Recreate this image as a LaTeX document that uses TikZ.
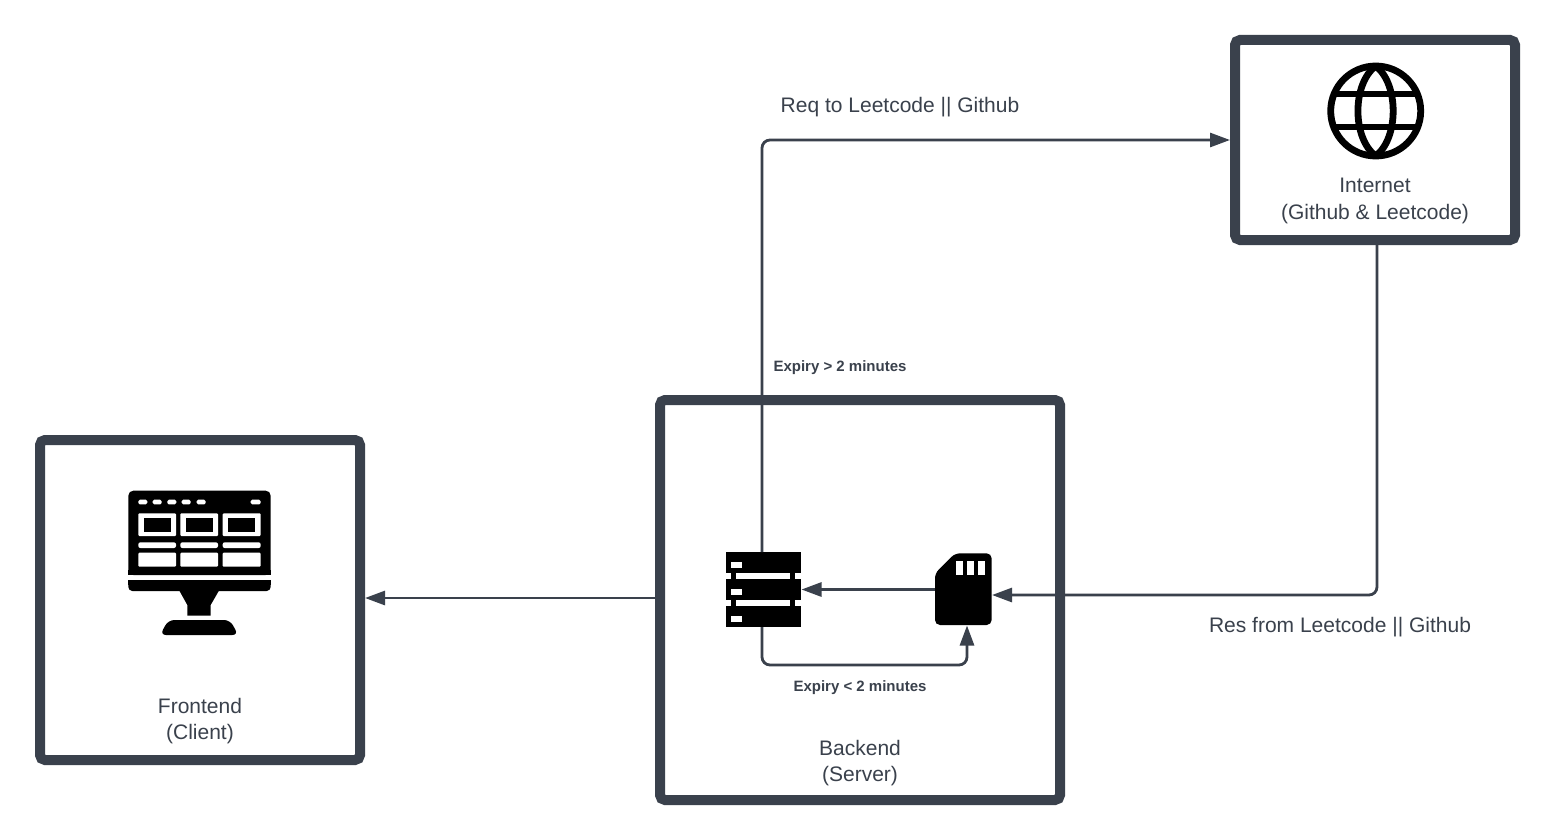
\documentclass[tikz,border=0pt]{standalone}
\usepackage{fontspec}
\setmainfont{Liberation Sans}
\usetikzlibrary{arrows.meta}
\definecolor{ink}{HTML}{3A414C}
\tikzset{
  x=1pt,y=-1pt,
  panel/.style={draw=ink,line width=10pt,rounded corners=5pt,fill=white,inner sep=0pt},
  iconbox/.style={inner sep=0pt,outer sep=0pt},
  link/.style={draw=ink,line width=2.8pt,rounded corners=8pt,-{Triangle[length=20pt,width=14pt]}},
  bodytext/.style={text=ink,align=center,font=\fontsize{21}{26.5}\selectfont,inner sep=0pt},
  smalltext/.style={text=ink,font=\bfseries\fontsize{15}{18}\selectfont,inner sep=0pt},
  zoomed/.style={x=0.33333pt,y=-0.33333pt}
}
\begin{document}
\begin{tikzpicture}
\useasboundingbox[fill=white] (0,0) rectangle (1555,840);
% panels
\node[panel,minimum width=320pt,minimum height=320pt] (frontend) at (200,600) {};
\node[panel,minimum width=400pt,minimum height=400pt] (backend) at (860,600) {};
\node[panel,minimum width=280pt,minimum height=200pt] (internet) at (1375,140) {};
% icon anchors
\node[iconbox,minimum width=75pt,minimum height=75pt] (server) at (764,589.5) {};
\node[iconbox,minimum width=57pt,minimum height=72pt] (sd) at (963.5,589.5) {};
% monitor icon
\begin{scope}[shift={(100,470)},zoomed]
  \fill[black,rounded corners=5pt] (85,62) rectangle (512,315);
  \fill[black] (85,300) rectangle (512,315);
  \fill[black,rounded corners=4pt] (85,330) rectangle (512,363);
  \fill[black] (85,330) rectangle (512,345);
  \fill[black] (237,360) -- (358,360) -- (332,405) -- (332,437) -- (262,437) -- (262,405) -- cycle;
  \fill[black,rounded corners=6pt] (180,495) -- (205,450) -- (390,450) -- (415,495) -- cycle;
  \foreach \a in {115,158,202,245,290}
    \fill[white,rounded corners=1.5pt] (\a,89) rectangle ++(27,14);
  \fill[white,rounded corners=1.5pt] (452,89) rectangle (482,103);
  \foreach \a/\b in {115/228,241/354,368/482}{
    \fill[white,rounded corners=1pt] (\a,130) rectangle (\b,198);
    \fill[black] (\a+16,145) rectangle (\b-16,185);
    \fill[white,rounded corners=2pt] (\a,217) rectangle (\b,234);
    \fill[white,rounded corners=1pt] (\a,248) rectangle (\b,290);
  }
\end{scope}
% server icon
\begin{scope}[shift={(700,530)},zoomed]
  \fill[black] (78,66) rectangle (303,290);
  \foreach \b in {128,210}{
    \fill[white] (108,\b) rectangle (270,\b+18);
    \fill[white] (78,\b) rectangle (93,\b+18);
    \fill[white] (285,\b) rectangle (303,\b+18);
  }
  \foreach \b in {97,177,258}
    \fill[white] (93,\b) rectangle (127,\b+18);
\end{scope}
% card icon
\begin{scope}[shift={(700,530)},zoomed]
  \fill[black,rounded corners=5pt] (705,130) -- (765,70) -- (875,70) -- (875,285) -- (705,285) -- cycle;
  \foreach \a in {768,800,833}
    \fill[white] (\a,92) rectangle (\a+22,135);
\end{scope}
% globe icon
\begin{scope}[line width=6.8pt,draw=black]
  \draw (1375.7,111) circle [radius=45];
  \draw (1375.7,66) .. controls (1352,84) and (1352,138) .. (1375.7,156);
  \draw (1375.7,66) .. controls (1399,84) and (1399,138) .. (1375.7,156);
  \draw (1335,94) -- (1416,94);
  \draw (1335,127) -- (1416,127);
\end{scope}
% connectors
\path[link] ([yshift=2pt]backend.west) -- ([yshift=2pt]frontend.east);
\path[link] ([xshift=-2pt]server.north) |- (internet.west);
\path[link] ([xshift=2pt]internet.south) |- ([yshift=-5.5pt]sd.east);
\path[link] (sd.west) -- (server.east);
\path[link] ([xshift=-2pt]server.south) -- ++(0,38) -| ([xshift=3.5pt]sd.south);
% texts
\node[bodytext] (frontendlabel) at (200,721) {Frontend\\(Client)};
\node[bodytext] (backendlabel) at (860,763) {Backend\\(Server)};
\node[bodytext] (internetlabel) at (1375,201) {Internet\\(Github \& Leetcode)};
\node[bodytext] (reqlabel) at (900,107) {Req to Leetcode || Github};
\node[bodytext] (reslabel) at (1340,627) {Res from Leetcode || Github};
\node[smalltext] (gtlabel) at (840,368) {Expiry > 2 minutes};
\node[smalltext] (ltlabel) at (860,688) {Expiry < 2 minutes};
\end{tikzpicture}
\end{document}
